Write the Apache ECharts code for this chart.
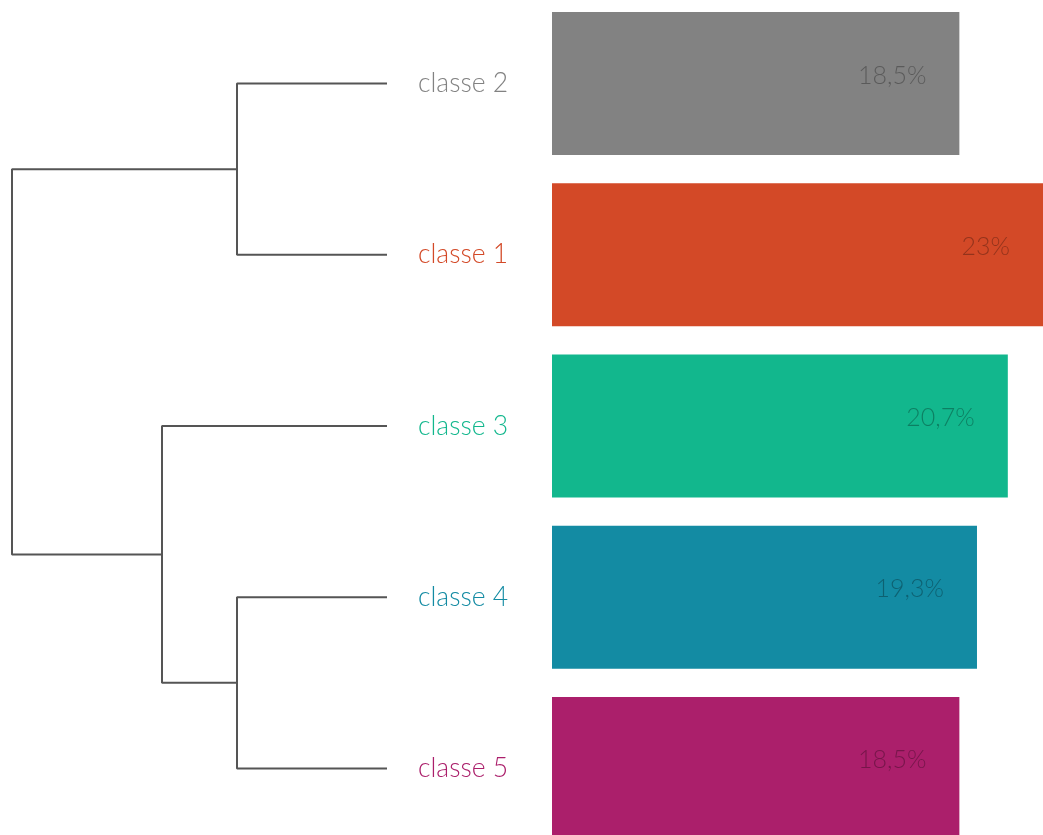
<!DOCTYPE html>
<html>
<head>
  <meta charset="UTF-8" />
  <title>classes</title>
  <script src="https://cdn.jsdelivr.net/npm/echarts@6/dist/echarts.min.js"></script>
</head>
<body style="margin: 0">
  <div id="main" style="width: 1043px; height: 835px"></div>
  <script>
    // classes top to bottom
    var classes = ["classe 2", "classe 1", "classe 3", "classe 4", "classe 5"];
    var shares = [18.5, 23, 20.7, 19.3, 18.5];
    var colors = ["#828282", "#d34927", "#12b78d", "#138ba3", "#ab1f6b"];
    // dendrogram merges: [left, right, height]; ids >= 5 are earlier merges
    var merges = [[0, 1, 1.0], [3, 4, 1.0], [2, 6, 1.5], [5, 7, 2.5]];

    var chart = echarts.init(document.getElementById("main"));

    // build the U shapes of the tree
    var nodes = classes.map(function (c, i) { return { y: i, h: 0 }; });
    var treeSeries = [];
    merges.forEach(function (m) {
      var a = nodes[m[0]], b = nodes[m[1]];
      treeSeries.push({
        type: "line",
        xAxisIndex: 1,
        yAxisIndex: 1,
        symbol: "none",
        silent: true,
        lineStyle: { color: "#555", width: 2 },
        data: [[a.h, a.y], [m[2], a.y], [m[2], b.y], [b.h, b.y]]
      });
      nodes.push({ y: (a.y + b.y) / 2, h: m[2] });
    });

    var option = {
      animation: false,
      grid: [
        { left: 552, top: -2, width: 491, height: 856, outerBoundsMode: "none" },
        { left: 12, top: -2, width: 375, height: 856, outerBoundsMode: "none" }
      ],
      xAxis: [
        { type: "value", min: 0, max: 491 / 22.02, show: false },
        { type: "value", gridIndex: 1, min: 0, max: 2.5, inverse: true, show: false }
      ],
      yAxis: [
        {
          type: "category",
          data: classes,
          inverse: true,
          axisLine: { show: false },
          axisTick: { show: false },
          axisLabel: {
            align: "left",
            margin: 134,
            padding: [4, 0, 0, 0],
            fontFamily: "Lato",
            fontWeight: 300,
            fontSize: 26.5,
            color: function (v, i) { return colors[i]; }
          }
        },
        { type: "value", gridIndex: 1, min: -0.5, max: 4.5, inverse: true, show: false }
      ],
      series: [
        {
          type: "bar",
          barWidth: 143,
          clip: true,
          data: shares.map(function (v, i) {
            return { value: v, itemStyle: { color: colors[i] } };
          }),
          label: {
            show: true,
            position: "insideRight",
            distance: 33,
            offset: [0, -8],
            fontFamily: "Lato",
            fontWeight: 300,
            fontSize: 25,
            color: "rgba(0,0,0,0.3)",
            formatter: function (p) { return String(p.value).replace(".", ",") + "%"; }
          }
        }
      ].concat(treeSeries)
    };
    chart.setOption(option);
  </script>
</body>
</html>
